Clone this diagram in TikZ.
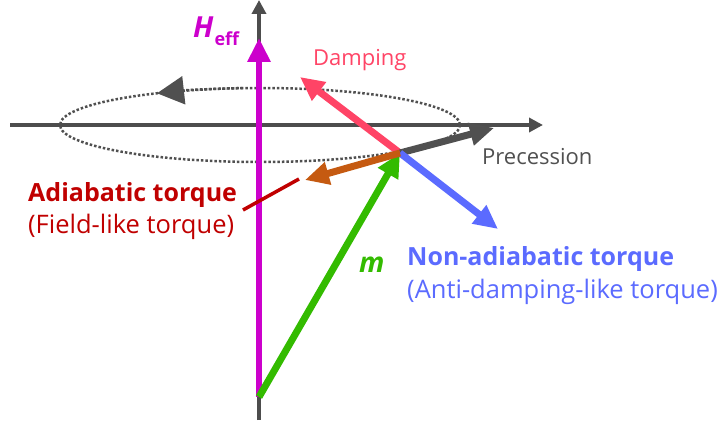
\documentclass[tikz,border=0pt]{standalone}
\usepackage{fontspec}
\setmainfont{Open Sans}
\usetikzlibrary{arrows.meta}
\definecolor{axisgray}{HTML}{4D4D4D}
\definecolor{hmag}{HTML}{CC00CC}
\definecolor{mgreen}{HTML}{33BB00}
\definecolor{dampred}{HTML}{FF4466}
\definecolor{nablue}{HTML}{5B6BFF}
\definecolor{adorange}{HTML}{C55A11}
\definecolor{adred}{HTML}{C00000}
\definecolor{precgray}{HTML}{505050}
\tikzset{
  axisline/.style={draw=axisgray, line width=3.5pt, -{Triangle[length=14pt,width=14pt]}},
  vec/.style={line width=7pt, -{Triangle[length=24pt,width=22pt]}},
  lbl/.style={inner sep=0pt, font=\fontsize{22}{26}\selectfont},
  biglbl/.style={inner sep=0pt, font=\fontsize{25.5}{30}\selectfont},
}
\begin{document}
\begin{tikzpicture}[x=1pt,y=-1pt]
\useasboundingbox (0,0) rectangle (725,427);
% axes
\coordinate (vb) at (259,420);
\coordinate (vt) at (259,0);
\coordinate (hl) at (10,125);
\coordinate (hr) at (543,125);
\draw[axisline] (vb) -- (vt);
\draw[axisline] (hl) -- (hr);
% ellipse
\coordinate (E) at (260,125);
\draw[precgray, line width=2.5pt, dotted] (E) ellipse [x radius=200, y radius=37];
\draw[precgray, line width=2.5pt, dotted, -{Triangle[length=27pt,width=28pt]}] (E) ++(-95:200 and 37) arc[start angle=-95, end angle=-121, x radius=200, y radius=37];
% vectors
\coordinate (O) at (259,397);
\coordinate (P) at (400,153);
\coordinate (Ht) at (259,38);
\coordinate (Dt) at (300,77);
\coordinate (Pt) at (494,128);
\coordinate (Nt) at (498,229);
\coordinate (At) at (305,180);
\draw[vec, hmag, line width=6pt] (O) -- (Ht);
\draw[vec, mgreen] (O) -- (P);
\draw[vec, dampred] (P) -- (Dt);
\draw[vec, precgray] (P) -- (Pt);
\draw[vec, nablue] (P) -- (Nt);
\draw[vec, adorange] (P) -- (At);
% leader
\coordinate (L1) at (243,210);
\coordinate (L2) at (299,179);
\draw[adred, line width=3.5pt] (L1) -- (L2);
% labels
\node[lbl, text=hmag, anchor=base west] (hlab) at (193,38) {\fontsize{29}{30}\selectfont\bfseries\itshape H\kern1pt\raisebox{-8pt}{\fontsize{18}{20}\selectfont\upshape eff}};
\node[lbl, text=dampred, anchor=base west] (dl) at (313,66) {Damping};
\node[lbl, text=precgray, anchor=base west] (pl) at (482,165) {Precession};
\node[biglbl, text=adred, anchor=base west, font=\fontsize{25}{30}\selectfont\bfseries] (al) at (28,202) {Adiabatic torque};
\node[biglbl, text=adred, anchor=base west] (fl) at (28,234) {(Field-like torque)};
\node[biglbl, text=nablue, anchor=base west, font=\fontsize{25}{30}\selectfont\bfseries] (nl) at (407,266) {Non-adiabatic torque};
\node[biglbl, text=nablue, anchor=base west] (adl) at (407,299) {(Anti-damping-like torque)};
\node[lbl, text=mgreen, anchor=base west, font=\fontsize{28}{30}\selectfont\bfseries\itshape] (ml) at (359,273) {m};
\end{tikzpicture}
\end{document}
